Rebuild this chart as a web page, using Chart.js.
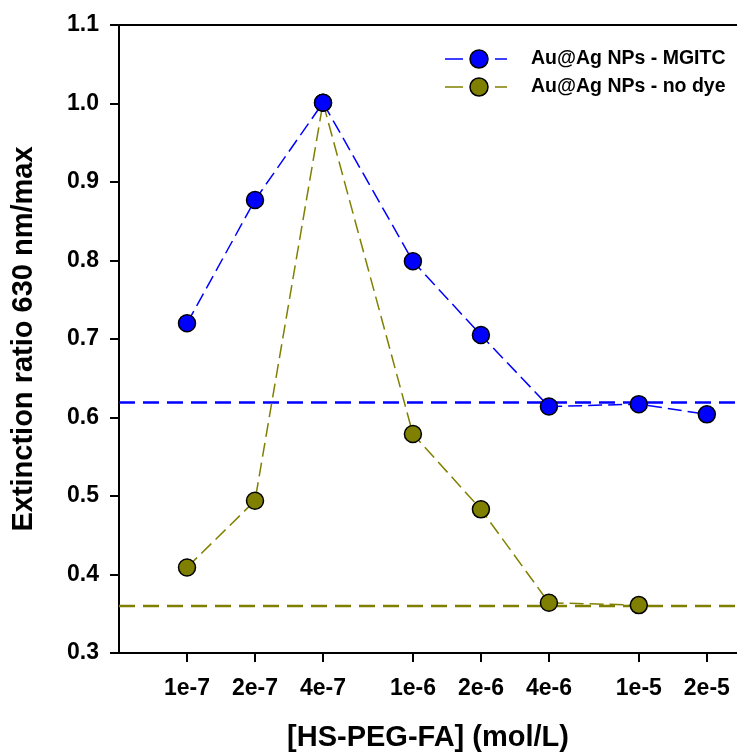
<!DOCTYPE html>
<html>
<head>
<meta charset="utf-8">
<script src="https://cdn.jsdelivr.net/npm/chart.js@4.4.1/dist/chart.umd.min.js"></script>
<style>
    html, body { margin: 0; padding: 0; background: #fff; }
</style>
</head>
<body>
<canvas id="ratioChart" width="737" height="756"></canvas>
<script>
// Values
const concentrations = [1e-7, 2e-7, 4e-7, 1e-6, 2e-6, 4e-6, 1e-5, 2e-5];
const tickLabels = ['1e-7', '2e-7', '4e-7', '1e-6', '2e-6', '4e-6', '1e-5', '2e-5'];
const mgitcRatio = [0.720, 0.877, 1.001, 0.799, 0.705, 0.614, 0.617, 0.604];
const noDyeRatio = [0.409, 0.494, 1.001, 0.579, 0.483, 0.364, 0.361, null];
const mgitcBaseline = 0.619;
const noDyeBaseline = 0.360;
const xRange = [5e-8, 2.72e-5];

const BLUE = '#0000ff';
const OLIVE = '#808000';

Chart.defaults.font.family = "'Liberation Sans', Arial, sans-serif";
Chart.defaults.font.weight = 'bold';
Chart.defaults.color = '#000';

function toPoints(values) {
    return concentrations
        .map((x, i) => ({ x: x, y: values[i] }))
        .filter(p => p.y !== null);
}

function flatLine(value) {
    return xRange.map(x => ({ x: x, y: value }));
}

// Legend drawn as "- o -" samples like the original
const sampleLegend = {
    id: 'sampleLegend',
    afterDatasetsDraw(chart) {
        const ctx = chart.ctx;
        [0, 1].forEach((idx, row) => {
            const ds = chart.data.datasets[idx];
            const y = 59 + row * 28;
            ctx.save();
            ctx.strokeStyle = ds.borderColor;
            ctx.lineWidth = 1.5;
            ctx.setLineDash([18, 7]);
            ctx.beginPath();
            ctx.moveTo(445, y);
            ctx.lineTo(507, y);
            ctx.stroke();
            ctx.setLineDash([]);
            ctx.beginPath();
            ctx.arc(479, y, 9, 0, Math.PI * 2);
            ctx.fillStyle = ds.pointBackgroundColor;
            ctx.fill();
            ctx.lineWidth = 1.5;
            ctx.strokeStyle = '#000';
            ctx.stroke();
            ctx.fillStyle = '#000';
            ctx.font = "bold 19.5px 'Liberation Sans', Arial, sans-serif";
            ctx.textBaseline = 'middle';
            ctx.fillText(ds.label, 531, y);
            ctx.restore();
        });
    }
};

const seriesStyle = {
    borderWidth: 1.5,
    borderDash: [14, 6],
    pointRadius: 8.5,
    pointBorderColor: '#000',
    pointBorderWidth: 1.5,
    tension: 0,
    fill: false
};

new Chart(document.getElementById('ratioChart'), {
    type: 'line',
    data: {
        datasets: [
            Object.assign({
                label: 'Au@Ag NPs - MGITC',
                data: toPoints(mgitcRatio),
                borderColor: BLUE,
                pointBackgroundColor: BLUE
            }, seriesStyle),
            Object.assign({
                label: 'Au@Ag NPs - no dye',
                data: toPoints(noDyeRatio),
                borderColor: OLIVE,
                pointBackgroundColor: OLIVE
            }, seriesStyle),
            {
                label: 'MGITC baseline',
                data: flatLine(mgitcBaseline),
                borderColor: BLUE,
                borderWidth: 2.5,
                borderDash: [16, 8],
                pointRadius: 0
            },
            {
                label: 'no dye baseline',
                data: flatLine(noDyeBaseline),
                borderColor: OLIVE,
                borderWidth: 2.5,
                borderDash: [16, 8],
                pointRadius: 0
            }
        ]
    },
    options: {
        responsive: false,
        animation: false,
        layout: { padding: 0, autoPadding: false },
        plugins: {
            legend: { display: false },
            tooltip: { enabled: false }
        },
        scales: {
            x: {
                type: 'logarithmic',
                position: 'bottom',
                min: xRange[0],
                max: xRange[1],
                afterBuildTicks: scale => {
                    scale.ticks = concentrations.map(v => ({ value: v }));
                },
                afterFit: scale => {
                    scale.height = 103;
                    scale.paddingRight = 0;
                    scale.paddingLeft = 0;
                },
                ticks: {
                    autoSkip: false,
                    maxRotation: 0,
                    padding: 13,
                    font: { size: 23 },
                    callback: value => {
                        const i = concentrations.findIndex(c => Math.abs(c - value) / c < 1e-6);
                        return i >= 0 ? tickLabels[i] : '';
                    }
                },
                grid: { drawOnChartArea: false, tickLength: 9, lineWidth: 2, color: '#000' },
                border: { color: '#000', width: 2 },
                title: {
                    display: true,
                    text: '[HS-PEG-FA] (mol/L)',
                    font: { size: 29 },
                    padding: { top: 0, bottom: 1 }
                }
            },
            xTop: {
                type: 'logarithmic',
                position: 'top',
                min: xRange[0],
                max: xRange[1],
                afterFit: scale => {
                    scale.height = 25;
                    scale.paddingRight = 0;
                    scale.paddingLeft = 0;
                },
                ticks: { display: false },
                grid: { drawOnChartArea: false, drawTicks: false },
                border: { color: '#000', width: 2 }
            },
            y: {
                min: 0.3,
                max: 1.1,
                afterFit: scale => { scale.width = 119; },
                ticks: {
                    stepSize: 0.1,
                    padding: 11,
                    font: { size: 23 },
                    callback: value => value.toFixed(1)
                },
                grid: { drawOnChartArea: false, tickLength: 9, lineWidth: 2, color: '#000' },
                border: { color: '#000', width: 2 },
                title: {
                    display: true,
                    text: 'Extinction ratio 630 nm/max',
                    font: { size: 29 },
                    padding: { top: 7, bottom: 0 }
                }
            }
        }
    },
    plugins: [sampleLegend]
});
</script>
</body>
</html>
